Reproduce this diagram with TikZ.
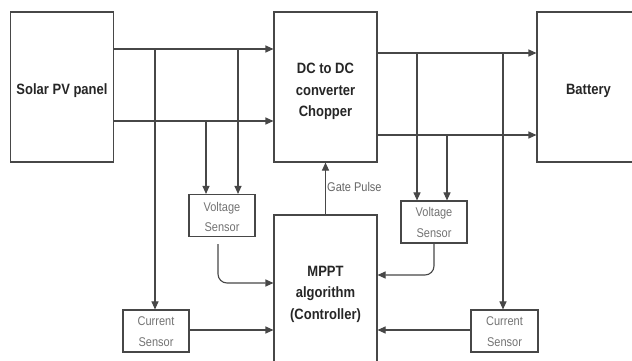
\documentclass[tikz,border=0pt]{standalone}
\usepackage{fontspec}
\setmainfont{Liberation Sans}
\usetikzlibrary{arrows.meta}
\newcommand\mytxt[2]{\raisebox{#1}[\height][\depth]{\scalebox{1}[1.15]{\begin{tabular}{@{}c@{}}#2\end{tabular}}}}
\begin{document}
\begin{tikzpicture}[x=1pt,y=-1pt,
  conn/.style={draw=black!72, line width=1.1pt},
  arr/.style={conn, -{Triangle[length=8pt,width=7pt]}},
  block/.style={draw=black!72, line width=1.1pt, fill=white, align=center,
    minimum width=103pt, text=black!85,
    font=\fontsize{13}{18.8}\selectfont\bfseries},
  sensor/.style={draw=black!72, line width=1.1pt, fill=white, align=center,
    minimum width=66pt, minimum height=41pt, inner sep=1pt, text=black!55,
    font=\fontsize{11}{17.4}\selectfont},
  lbl/.style={text=black!60, font=\fontsize{11}{13}\selectfont, inner sep=0pt}]
\useasboundingbox (0,0) rectangle (632,361);
\fill[white] (0,0) rectangle (632,361);
\clip (0,0) rectangle (632,361);
% main blocks
\node[block, minimum height=150pt] (solar) at (62,87) {\mytxt{-3pt}{Solar PV panel}};
\node[block, minimum height=150pt] (dc) at (325.5,87) {\mytxt{-4pt}{DC to DC\\converter\\Chopper}};
\node[block, minimum height=150pt] (bat) at (588.5,87) {\mytxt{-3pt}{Battery}};
\node[block, minimum height=154pt] (mppt) at (325.5,292) {\mytxt{-1.5pt}{MPPT\\algorithm\\(Controller)}};
% sensors
\node[sensor] (vs1) at (222,215.5) {\mytxt{-2pt}{Voltage\\Sensor}};
\node[sensor] (cs1) at (156,331) {\mytxt{-1pt}{Current\\Sensor}};
\node[sensor, minimum height=40pt] (vs2) at (434,222) {\mytxt{-1pt}{Voltage\\Sensor}};
\node[sensor, minimum width=67pt] (cs2) at (504.5,331) {\mytxt{-1pt}{Current\\Sensor}};
% helper coordinates
\coordinate (y1) at (0,49);
\coordinate (y2) at (0,121);
\coordinate (y3) at (0,53);
\coordinate (y4) at (0,135);
\coordinate (b1) at (155,49);
\coordinate (b2) at (238,49);
\coordinate (b3) at (206,121);
\coordinate (b4) at (417,53);
\coordinate (b5) at (447,135);
\coordinate (b6) at (503,53);
\coordinate (v1) at (0,283);
\coordinate (v2) at (0,275);
\coordinate (c1) at (0,330);
% power lines
\draw[arr] (solar.east |- y1) -- (dc.west |- y1);
\draw[arr] (solar.east |- y2) -- (dc.west |- y2);
\draw[arr] (dc.east |- y3) -- (bat.west |- y3);
\draw[arr] (dc.east |- y4) -- (bat.west |- y4);
% sensing taps
\draw[arr] (b1) -- (b1 |- cs1.north);
\draw[arr] (b2) -- (b2 |- vs1.north);
\draw[arr] (b3) -- (b3 |- vs1.north);
\draw[arr] (b4) -- (b4 |- vs2.north);
\draw[arr] (b5) -- (b5 |- vs2.north);
\draw[arr] (b6) -- (b6 |- cs2.north);
% sensor outputs
\draw[arr, rounded corners=9pt] ([xshift=-4pt,yshift=-7pt]vs1.south) |- (mppt.west |- v1);
\draw[arr, rounded corners=9pt] (vs2.south) |- (mppt.east |- v2);
\draw[arr] (cs1.east |- c1) -- (mppt.west |- c1);
\draw[arr] (cs2.west |- c1) -- (mppt.east |- c1);
% gate pulse
\draw[arr] (mppt.north) -- (mppt.north |- dc.south);
\node[lbl, anchor=west] (gp) at (327,187) {\scalebox{1}[1.15]{Gate Pulse}};
\end{tikzpicture}
\end{document}
